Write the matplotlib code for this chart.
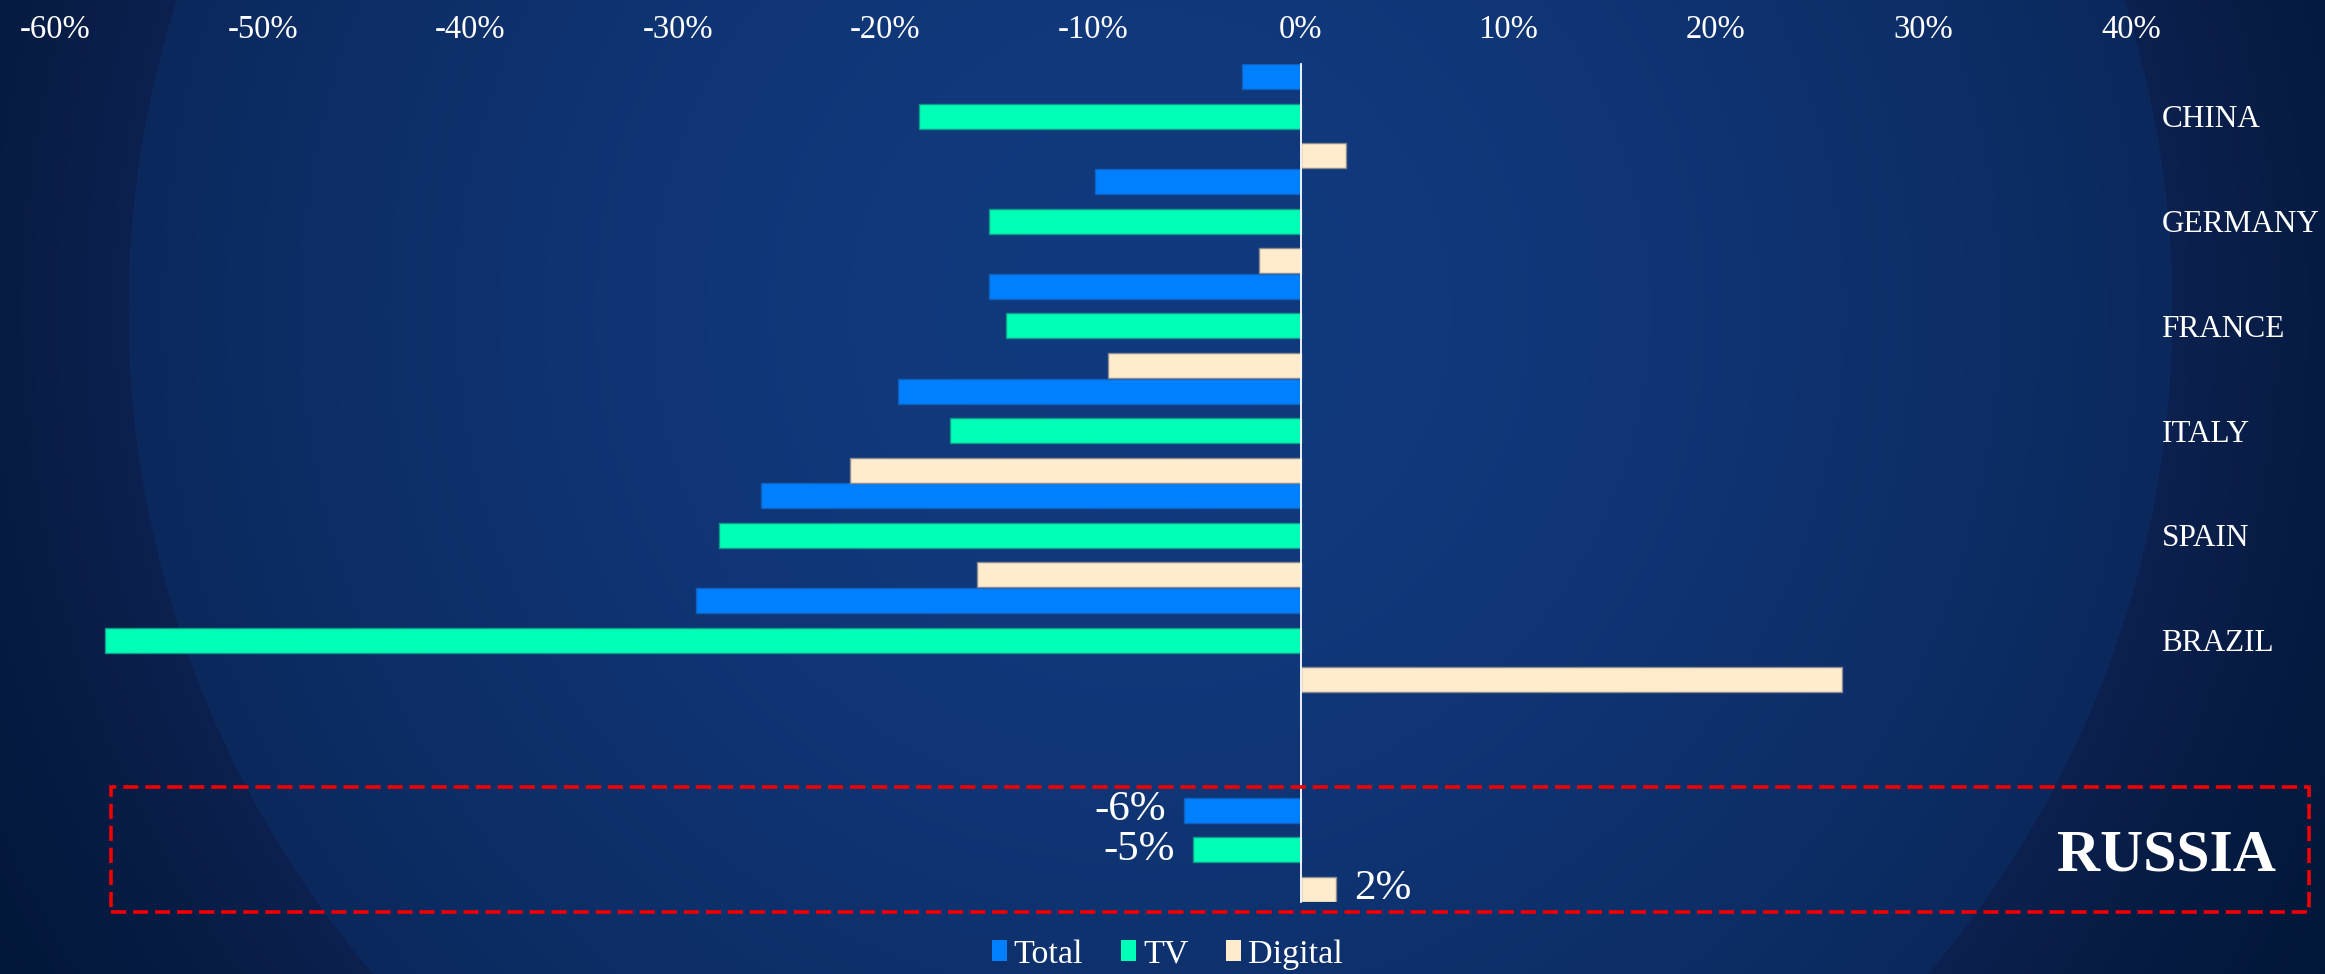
import numpy as np
import matplotlib
matplotlib.use("Agg")
import matplotlib.pyplot as plt
from matplotlib.patches import Rectangle, Patch

plt.rcParams['font.family'] = ['Liberation Serif', 'DejaVu Serif']

# ---------------- data ----------------
countries = ["CHINA", "GERMANY", "FRANCE", "ITALY", "SPAIN", "BRAZIL", "RUSSIA"]
total   = [-2.8, -9.9, -15.0, -19.4, -26.0, -29.1, -5.6]
tv      = [-18.4, -15.0, -14.2, -16.9, -28.0, -57.6, -5.2]
digital = [2.2, -2.0, -9.3, -21.7, -15.6, 26.1, 1.7]
series_names = ["Total", "TV", "Digital"]
xticks = [-60, -50, -40, -30, -20, -10, 0, 10, 20, 30, 40]

# ---------------- figure ----------------
W, H = 2325, 974
dpi = 100
fig = plt.figure(figsize=(W / dpi, H / dpi), dpi=dpi)

# background radial gradient
yy, xx = np.mgrid[0:H, 0:W].astype(float)
d = np.sqrt((xx - 1150) ** 2 + (yy - 310) ** 2) / 1022.0
c_center = np.array([0x11, 0x3a, 0x7e]) / 255
c_edge_in = np.array([0x0b, 0x28, 0x5c]) / 255
c_edge_out = np.array([0x0d, 0x21, 0x50]) / 255
c_far = np.array([0x00, 0x16, 0x36]) / 255
t_in = np.clip(d, 0, 1) ** 1.8
img_in = c_center[None, None, :] * (1 - t_in[..., None]) + c_edge_in[None, None, :] * t_in[..., None]
t_out = np.clip((d - 1) / 0.35, 0, 1) ** 0.8
img_out = c_edge_out[None, None, :] * (1 - t_out[..., None]) + c_far[None, None, :] * t_out[..., None]
img = np.where((d <= 1)[..., None], img_in, img_out)
bg = fig.add_axes([0, 0, 1, 1], zorder=-10)
bg.imshow(img, aspect='auto', interpolation='bilinear')
bg.axis('off')

# main axes (pixel layout)
left, right, top, bottom = 55, 2131, 64, 902
ax = fig.add_axes([left / W, 1 - bottom / H, (right - left) / W, (bottom - top) / H])
ax.set_facecolor('none')

n = len(countries)
slots = np.array(list(range(n - 1)) + [n])  # empty slot before RUSSIA
off = 0.377
h = 0.24
col_total, col_tv, col_dig = "#0080ff", "#00ffb6", "#ffeccc"
b1 = ax.barh(slots - off, total, height=h, color=col_total, edgecolor="#1060c0", linewidth=1, zorder=3)
b2 = ax.barh(slots, tv, height=h, color=col_tv, edgecolor="#109a8a", linewidth=1, zorder=3)
b3 = ax.barh(slots + off, digital, height=h, color=col_dig, edgecolor="#8a8a90", linewidth=1, zorder=3)

ax.set_xlim(-60, 40)
ax.set_ylim(slots[-1] + 0.5, -0.5)

# x ticks on top
ax.xaxis.tick_top()
ax.set_xticks(xticks)
ax.set_xticklabels([f"{v}%" for v in xticks])
ax.tick_params(axis='x', length=0, pad=14, labelcolor='white', labelsize=23.5)

# y labels on the right
ax.yaxis.tick_right()
ax.set_yticks(slots[:-1])
ax.set_yticklabels(countries[:-1])
ax.tick_params(axis='y', length=0, pad=22, labelcolor='white', labelsize=22.5)

for s in ["top", "right", "bottom"]:
    ax.spines[s].set_visible(False)
ax.spines["left"].set_position(("data", 0))
ax.spines["left"].set_color("white")
ax.spines["left"].set_linewidth(1.3)
ax.spines["left"].set_zorder(4)

# Russia labels
ax.text(1.017, slots[-1], countries[-1], transform=ax.get_yaxis_transform(),
        ha='center', va='center_baseline', color='white', fontsize=43, fontweight='bold')
for bars, vals in ((b1, total), (b2, tv), (b3, digital)):
    labs = [""] * (n - 1) + [f"{round(vals[-1]):d}%"]
    ax.bar_label(bars, labels=labs, padding=13, color='white', fontsize=31)

# red dashed box
fig.patches.append(Rectangle((111 / W, 1 - 912 / H), (2309 - 111) / W, (912 - 787) / H,
                             transform=fig.transFigure, fill=False, edgecolor="#f00000",
                             linewidth=2.6, linestyle=(0, (4.2, 1.9)), zorder=5))

# legend
handles = [Patch(facecolor=c, edgecolor='none') for c in (col_total, col_tv, col_dig)]
fig.legend(handles, series_names, loc='center', bbox_to_anchor=(0.502, 0.02), ncol=3,
           frameon=False, fontsize=24.5, labelcolor='white', handlelength=0.45,
           handleheight=0.55, handletextpad=0.2, columnspacing=1.1, borderpad=0)

fig.savefig("out.png", dpi=dpi)
